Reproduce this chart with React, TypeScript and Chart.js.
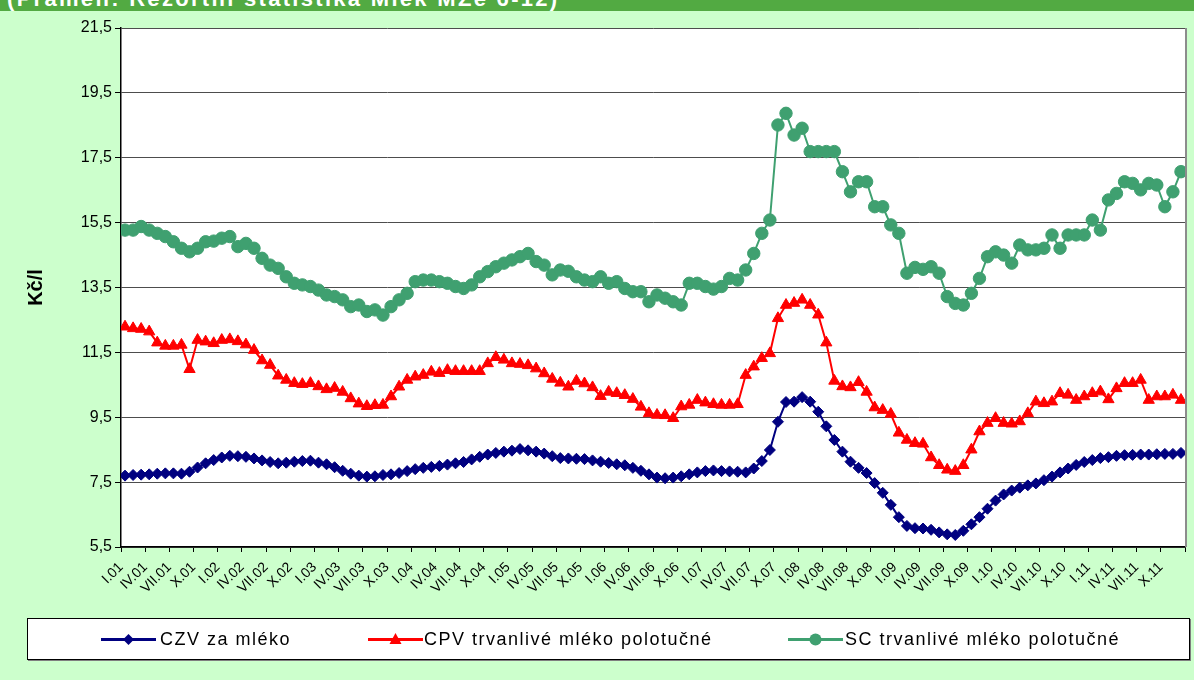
import React, { useEffect, useRef } from "react";
import { Chart, registerables } from "chart.js";

Chart.register(...registerables);

// Tick labels (every third month, I.01 ... X.11)
const tickLabels = [
  "I.01", "IV.01", "VII.01", "X.01",
  "I.02", "IV.02", "VII.02", "X.02",
  "I.03", "IV.03", "VII.03", "X.03",
  "I.04", "IV.04", "VII.04", "X.04",
  "I.05", "IV.05", "VII.05", "X.05",
  "I.06", "IV.06", "VII.06", "X.06",
  "I.07", "IV.07", "VII.07", "X.07",
  "I.08", "IV.08", "VII.08", "X.08",
  "I.09", "IV.09", "VII.09", "X.09",
  "I.10", "IV.10", "VII.10", "X.10",
  "I.11", "IV.11", "VII.11", "X.11",
];

// Monthly values I.01 ... XII.11 (132 months), Kč/l
const czv = [
  7.70, 7.72, 7.73, 7.74, 7.76, 7.77, 7.77, 7.76, 7.82, 7.95, 8.08, 8.18,
  8.26, 8.31, 8.30, 8.28, 8.23, 8.17, 8.12, 8.08, 8.10, 8.13, 8.15, 8.16,
  8.10, 8.05, 7.96, 7.85, 7.76, 7.70, 7.67, 7.68, 7.72, 7.74, 7.78, 7.84,
  7.90, 7.94, 7.97, 8.00, 8.04, 8.08, 8.12, 8.20, 8.28, 8.35, 8.40, 8.44,
  8.47, 8.52, 8.48, 8.44, 8.38, 8.30, 8.24, 8.23, 8.22, 8.21, 8.17, 8.13,
  8.09, 8.05, 8.02, 7.94, 7.85, 7.74, 7.64, 7.62, 7.64, 7.68, 7.74, 7.80,
  7.84, 7.86, 7.84, 7.83, 7.82, 7.80, 7.92, 8.15, 8.49, 9.36, 9.97, 9.98,
  10.12, 9.98, 9.67, 9.22, 8.80, 8.44, 8.13, 7.94, 7.78, 7.47, 7.17, 6.80,
  6.42, 6.15, 6.08, 6.07, 6.03, 5.95, 5.89, 5.87, 6.00, 6.20, 6.42, 6.68,
  6.93, 7.12, 7.24, 7.33, 7.40, 7.46, 7.56, 7.67, 7.80, 7.92, 8.03, 8.12,
  8.18, 8.24, 8.27, 8.31, 8.33, 8.34, 8.35, 8.35, 8.36, 8.37, 8.37, 8.40,
];

const cpv = [
  12.29, 12.24, 12.22, 12.14, 11.80, 11.70, 11.70, 11.73, 10.98, 11.88, 11.83, 11.78,
  11.88, 11.90, 11.84, 11.74, 11.57, 11.25, 11.11, 10.78, 10.65, 10.55, 10.52, 10.55,
  10.45, 10.36, 10.40, 10.28, 10.08, 9.92, 9.84, 9.87, 9.88, 10.14, 10.44, 10.65,
  10.75, 10.80, 10.90, 10.86, 10.95, 10.92, 10.92, 10.92, 10.92, 11.16, 11.35, 11.27,
  11.16, 11.14, 11.10, 11.00, 10.85, 10.68, 10.56, 10.44, 10.62, 10.54, 10.42, 10.15,
  10.28, 10.24, 10.18, 10.06, 9.82, 9.62, 9.57, 9.56, 9.47, 9.83, 9.88, 10.03,
  9.95, 9.90, 9.88, 9.88, 9.90, 10.80, 11.06, 11.32, 11.47, 12.55, 12.96, 13.02,
  13.12, 12.96, 12.66, 11.80, 10.62, 10.45, 10.42, 10.58, 10.28, 9.80, 9.72, 9.60,
  9.02, 8.80, 8.70, 8.68, 8.26, 8.02, 7.88, 7.84, 8.02, 8.50, 9.06, 9.32,
  9.47, 9.32, 9.30, 9.37, 9.62, 9.98, 9.93, 9.98, 10.24, 10.19, 10.03, 10.14,
  10.24, 10.29, 10.05, 10.39, 10.55, 10.55, 10.65, 10.03, 10.14, 10.14, 10.19, 10.03,
];

const sc = [
  15.27, 15.27, 15.38, 15.27, 15.17, 15.07, 14.91, 14.71, 14.60, 14.71, 14.91, 14.93,
  15.02, 15.07, 14.76, 14.86, 14.71, 14.40, 14.19, 14.09, 13.83, 13.63, 13.58, 13.53,
  13.42, 13.27, 13.22, 13.12, 12.91, 12.96, 12.76, 12.81, 12.65, 12.91, 13.12, 13.32,
  13.68, 13.73, 13.73, 13.68, 13.63, 13.53, 13.47, 13.58, 13.83, 13.99, 14.14, 14.25,
  14.35, 14.45, 14.55, 14.30, 14.19, 13.89, 14.04, 14.00, 13.83, 13.73, 13.68, 13.83,
  13.63, 13.68, 13.47, 13.37, 13.37, 13.06, 13.27, 13.17, 13.06, 12.96, 13.63, 13.63,
  13.53, 13.45, 13.53, 13.78, 13.73, 14.04, 14.55, 15.17, 15.58, 18.51, 18.87, 18.20,
  18.41, 17.69, 17.69, 17.69, 17.69, 17.07, 16.45, 16.76, 16.76, 15.99, 15.99, 15.43,
  15.17, 13.94, 14.12, 14.06, 14.14, 13.94, 13.22, 13.01, 12.96, 13.32, 13.78, 14.45,
  14.60, 14.50, 14.25, 14.81, 14.66, 14.66, 14.71, 15.12, 14.71, 15.12, 15.12, 15.12,
  15.58, 15.27, 16.20, 16.40, 16.76, 16.71, 16.51, 16.71, 16.66, 15.99, 16.45, 17.07,
];

const seriesNames = [
  "CZV za mléko",
  "CPV trvanlivé mléko polotučné",
  "SC trvanlivé mléko polotučné",
];
const seriesColors = ["#000080", "#FF0000", "#3FA070"];

const yMin = 5.5;
const yMax = 21.5;
const yStep = 2;
const monthsPerTick = 3;

const FONT = "'Liberation Sans', Arial, sans-serif";

const areaPlugin = {
  id: "areaDecor",
  beforeDraw(chart: any) {
    const { ctx, chartArea: a } = chart;
    ctx.save();
    ctx.fillStyle = "#ffffff";
    ctx.fillRect(a.left, a.top, a.right - a.left, a.bottom - a.top);
    ctx.restore();
  },
  beforeDatasetsDraw(chart: any) {
    const { ctx, chartArea: a } = chart;
    ctx.save();
    ctx.strokeStyle = "#8c8c8c";
    ctx.lineWidth = 2;
    ctx.beginPath();
    ctx.moveTo(a.right + 1, a.top);
    ctx.lineTo(a.right + 1, a.bottom);
    ctx.stroke();
    ctx.restore();
  },
};

function toPoints(values: number[]) {
  return values.map((v, i) => ({ x: i + 0.5, y: v }));
}

function LegendMarker({ kind, color }: { kind: string; color: string }) {
  let marker: React.ReactNode = null;
  if (kind === "diamond") {
    marker = <polygon points="27.5,6 33,11.5 27.5,17 22,11.5" fill={color} />;
  } else if (kind === "triangle") {
    marker = <polygon points="27.5,5 33.5,16 21.5,16" fill={color} />;
  } else {
    marker = <circle cx="27.5" cy="11.5" r="6" fill={color} />;
  }
  return (
    <svg width="55" height="23" style={{ display: "block" }}>
      <line x1="0" y1="11.5" x2="55" y2="11.5" stroke={color} strokeWidth="3" />
      {marker}
    </svg>
  );
}

export default function App() {
  const canvasRef = useRef<HTMLCanvasElement | null>(null);

  useEffect(() => {
    if (!canvasRef.current) return;
    const pointStyles = ["rectRot", "triangle", "circle"];
    const radii = [5.5, 6.5, 6.2];
    const all = [czv, cpv, sc];
    const chart = new Chart(canvasRef.current, {
      type: "line",
      data: {
        datasets: all.map((vals, k) => ({
          label: seriesNames[k],
          data: toPoints(vals),
          borderColor: seriesColors[k],
          backgroundColor: seriesColors[k],
          borderWidth: 2,
          pointStyle: pointStyles[k] as any,
          pointRadius: radii[k],
          pointBorderWidth: 1,
          pointBackgroundColor: seriesColors[k],
          pointBorderColor: seriesColors[k],
          tension: 0,
        })),
      },
      options: {
        animation: false,
        responsive: false,
        devicePixelRatio: 1,
        layout: { padding: { left: 0, right: 9, top: 28, bottom: 63 } },
        plugins: {
          legend: { display: false },
          tooltip: { enabled: false },
        },
        scales: {
          x: {
            type: "linear",
            min: 0,
            max: czv.length,
            afterFit(scale: any) {
              scale.height = 70;
              scale.paddingLeft = 0;
              scale.paddingRight = 0;
            },
            ticks: {
              stepSize: monthsPerTick,
              autoSkip: false,
              minRotation: 45,
              maxRotation: 45,
              padding: 7,
              color: "#000",
              font: { family: FONT, size: 14 },
              callback: (value: any) => {
                const idx = Math.round(Number(value) / monthsPerTick);
                return tickLabels[idx] ?? "";
              },
            },
            grid: {
              drawOnChartArea: false,
              drawTicks: true,
              tickLength: 5,
              tickColor: "#000",
              color: "#000",
            },
            border: { display: true, color: "#000", width: 1.5 },
          },
          y: {
            type: "linear",
            min: yMin,
            max: yMax,
            afterFit(scale: any) {
              scale.width = 121;
            },
            ticks: {
              stepSize: yStep,
              padding: 3,
              color: "#000",
              font: { family: FONT, size: 16 },
              callback: (value: any) => Number(value).toFixed(1).replace(".", ","),
            },
            grid: {
              color: "#4d4d4d",
              lineWidth: 1,
              tickLength: 6,
              tickColor: "#000",
            },
            border: { display: true, color: "#000", width: 1.5 },
            title: {
              display: true,
              text: "Kč/l",
              color: "#000",
              font: { family: FONT, size: 20, weight: "bold" },
              padding: { top: 24, bottom: 0 },
            },
          },
        },
      },
      plugins: [areaPlugin],
    });
    return () => chart.destroy();
  }, []);

  const legendItems = [
    { kind: "diamond", marker: 73, text: 132 },
    { kind: "triangle", marker: 340, text: 396 },
    { kind: "circle", marker: 760, text: 817 },
  ];

  return (
    <div
      style={{
        position: "fixed",
        left: 0,
        top: 0,
        width: 1194,
        height: 680,
        background: "#CCFFCC",
        overflow: "hidden",
      }}
    >
      <div
        style={{
          position: "absolute",
          left: 0,
          top: 0,
          width: 1194,
          height: 11,
          background: "#52AA42",
          overflow: "hidden",
        }}
      >
        <span
          style={{
            position: "absolute",
            left: 7,
            top: -12,
            lineHeight: "22px",
            fontFamily: FONT,
            fontWeight: "bold",
            fontSize: 22,
            letterSpacing: "2.3px",
            color: "#fff",
            whiteSpace: "nowrap",
          }}
        >
          (Pramen: Rezortní statistika Mlék MZe 6-12)
        </span>
      </div>
      <canvas
        ref={canvasRef}
        width={1194}
        height={680}
        style={{ position: "absolute", left: 0, top: 0, width: 1194, height: 680 }}
      />
      <div
        style={{
          position: "absolute",
          left: 27,
          top: 618,
          width: 1161,
          height: 40,
          background: "#fff",
          border: "1px solid #000",
          boxShadow: "1px 1px 0 #7f7f7f",
        }}
      >
        {legendItems.map((it, k) => (
          <React.Fragment key={k}>
            <div style={{ position: "absolute", left: it.marker, top: 9 }}>
              <LegendMarker kind={it.kind} color={seriesColors[k]} />
            </div>
            <div
              style={{
                position: "absolute",
                left: it.text,
                top: 0,
                lineHeight: "40px",
                fontFamily: FONT,
                fontSize: 18,
                letterSpacing: "1.5px",
                color: "#000",
                whiteSpace: "nowrap",
              }}
            >
              {seriesNames[k]}
            </div>
          </React.Fragment>
        ))}
      </div>
    </div>
  );
}
